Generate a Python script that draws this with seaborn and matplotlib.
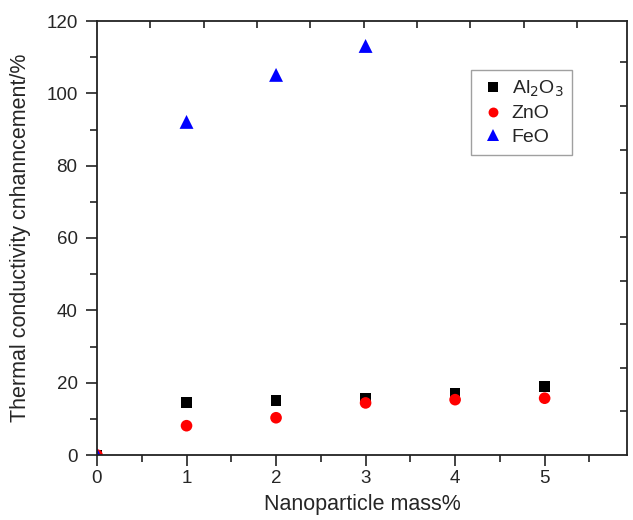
import matplotlib
matplotlib.use("Agg")
import matplotlib.pyplot as plt
from matplotlib.ticker import MultipleLocator
import seaborn as sns
import pandas as pd

sns.set_style("white")
plt.rcParams["font.family"] = ["Liberation Sans", "DejaVu Sans"]

mass = [0, 1, 2, 3, 4, 5]
al2o3 = [0, 14.5, 15.1, 15.6, 17.1, 19.0]
zno = [0, 8.1, 10.3, 14.4, 15.3, 15.7]
feo_mass = [0, 1, 2, 3]
feo = [0, 92.1, 105.1, 113.1]

labels = ["Al$_2$O$_3$", "ZnO", "FeO"]
colors = ["black", "red", "blue"]
markers = ["s", "o", "^"]
marker_sizes = [60, 70, 100]

df = pd.concat([
    pd.DataFrame({"mass": mass, "enh": al2o3, "np": labels[0]}),
    pd.DataFrame({"mass": mass, "enh": zno, "np": labels[1]}),
    pd.DataFrame({"mass": feo_mass, "enh": feo, "np": labels[2]}),
], ignore_index=True)

fig = plt.figure(figsize=(6.33, 5.20), dpi=100)
ax = fig.add_axes([97 / 633, 1 - 455 / 520, 530 / 633, 434 / 520])

sns.scatterplot(data=df, x="mass", y="enh", hue="np", style="np", size="np",
                palette=dict(zip(labels, colors)),
                markers=dict(zip(labels, markers)),
                sizes=dict(zip(labels, marker_sizes)),
                edgecolor="none", linewidth=0, ax=ax, legend=True)

ax.set_xlim(0, 5.92)
ax.set_ylim(0, 120)
ax.xaxis.set_major_locator(MultipleLocator(1))
ax.xaxis.set_minor_locator(MultipleLocator(0.5))
ax.yaxis.set_major_locator(MultipleLocator(20))
ax.yaxis.set_minor_locator(MultipleLocator(10))
ax.set_xticks([0, 1, 2, 3, 4, 5])
ax.tick_params(which="major", direction="out", length=8, width=1.2,
               labelsize=13.5, color="#222222")
ax.tick_params(axis="x", which="major", pad=3)
ax.tick_params(axis="y", which="major", pad=6)
ax.tick_params(which="minor", direction="out", length=5, width=1.2, color="#222222")
ax.tick_params(axis="both", which="both", bottom=True, left=True, top=False, right=False)
ax.set_xlabel("Nanoparticle mass%", fontsize=15.5, labelpad=5)
ax.set_ylabel("Thermal conductivity cnhanncement/%", fontsize=15.5, labelpad=11)
for sp in ax.spines.values():
    sp.set_visible(True)
    sp.set_color("#222222")
    sp.set_linewidth(1.3)

handles, _ = ax.get_legend_handles_labels()
ax.get_legend().remove()
leg = ax.legend(handles, labels, loc="upper left",
                bbox_to_anchor=((471 - 97) / 530, (455 - 70) / 434),
                borderaxespad=0, fontsize=14, frameon=True, fancybox=False,
                edgecolor="#888888", handlelength=1.35, handletextpad=0.3,
                borderpad=0.45, labelspacing=0.3, markerscale=0.85)
leg.get_frame().set_linewidth(1.0)

# inward ticks on the top and right frame
top = ax.twiny()
top.set_xlim(0, 9.94)
top.set_xticks(range(1, 10))
top.tick_params(axis="x", direction="in", length=5, width=1.2, labeltop=False, color="#222222")
right = ax.twinx()
right.set_ylim(0, 9.95)
right.set_yticks(range(1, 10))
right.tick_params(axis="y", direction="in", length=5, width=1.2, labelright=False, color="#222222")
for a in (top, right):
    for sp in a.spines.values():
        sp.set_visible(False)

fig.savefig("out.png", dpi=100)
